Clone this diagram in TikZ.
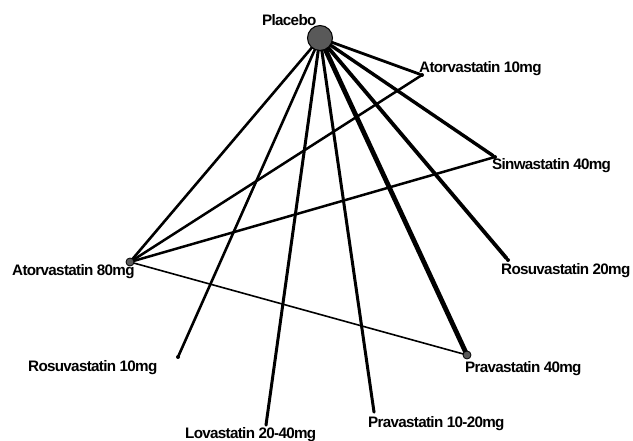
\documentclass[tikz,border=0pt]{standalone}
\usepackage{fontspec}
\setmainfont{Liberation Sans}
\newfontfamily\lblfont[LetterSpace=-4.5]{Liberation Sans}
\begin{document}
\begin{tikzpicture}[x=1pt,y=-1pt,
  lbl/.style={font=\lblfont\bfseries\fontsize{15.2}{16}\selectfont, inner sep=0pt, anchor=west},
  dot/.style={circle, fill=black, inner sep=0pt, minimum size=4pt},
  bigdot/.style={circle, draw=black, fill=gray!70!black, line width=0.8pt, inner sep=0pt, minimum size=8pt},
  edge/.style={line width=#1, line cap=round}
]
\useasboundingbox (0,0) rectangle (633,441);
% node positions
\coordinate (P) at (320,38);
\node[dot] (A10) at (422,75) {};
\node[dot] (S40) at (495,157) {};
\node[dot] (R20) at (508,260) {};
\node[dot] (R10) at (178,357) {};
\node[dot, minimum size=3pt] (L) at (266,425) {};
\node[dot, minimum size=3pt] (P1020) at (374,412) {};
% edges
\draw[edge=2.8pt] (P) -- (A10);
\draw[edge=3.4pt] (P) -- (S40);
\draw[edge=3.8pt] (P) -- (R20);
\draw[edge=4.8pt] (P) -- (467,355) coordinate (P40c);
\draw[edge=3pt] (P) -- (P1020.center);
\draw[edge=3pt] (P) -- (L.center);
\draw[edge=2.6pt] (P) -- (R10.center);
\draw[edge=2.6pt] (P) -- (130,262) coordinate (A80c);
\draw[edge=2.5pt] (A80c) -- (A10.center);
\draw[edge=2.5pt] (A80c) -- (S40.center);
\draw[edge=1.6pt] (A80c) -- (P40c);
% circles on top
\node[circle, draw=black, fill=gray!70!black, line width=1pt, inner sep=0pt, minimum size=25pt] (Pl) at (P) {};
\node[bigdot] (A80) at (A80c) {};
\node[bigdot] (P40) at (P40c) {};
% labels
\node[lbl] (tPl) at (262,20) {Placebo};
\node[lbl] (tA10) at (419,69) {Atorvastatin 10mg};
\node[lbl] (tS40) at (492,166) {Sinwastatin 40mg};
\node[lbl] (tR20) at (501,271) {Rosuvastatin 20mg};
\node[lbl] (tA80) at (12,272) {Atorvastatin 80mg};
\node[lbl] (tR10) at (28,368) {Rosuvastatin 10mg};
\node[lbl] (tP40) at (465,369) {Pravastatin 40mg};
\node[lbl] (tP1020) at (368,424) {Pravastatin 10-20mg};
\node[lbl] (tL) at (185,435) {Lovastatin 20-40mg};
\end{tikzpicture}
\end{document}
